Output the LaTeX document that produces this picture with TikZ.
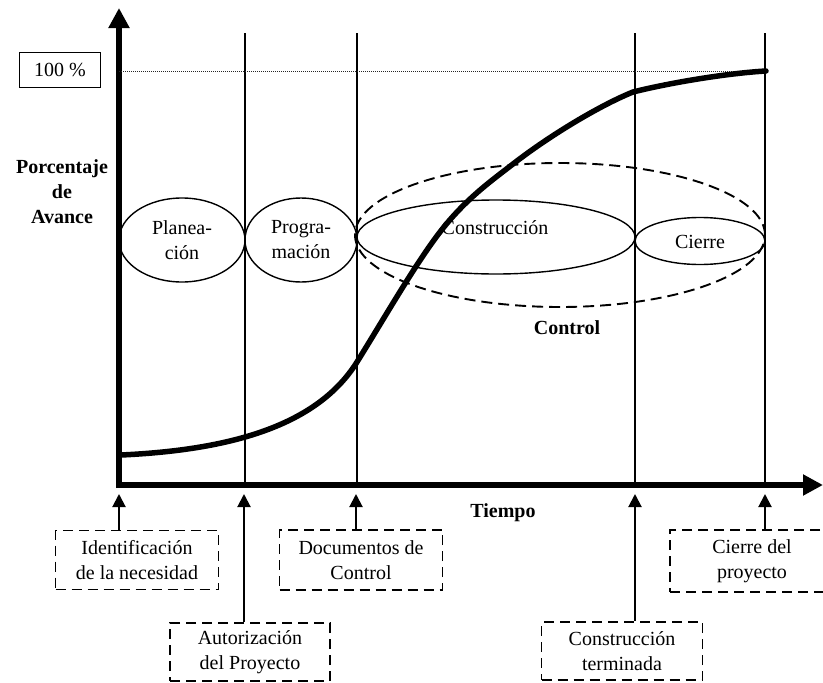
\documentclass[tikz,border=0pt]{standalone}
\usepackage{fontspec}
\setmainfont{Liberation Serif}
\usetikzlibrary{arrows.meta,shapes.geometric}
\begin{document}
\begin{tikzpicture}[x=1pt,y=-1pt,
  font=\fontsize{20}{25}\selectfont,
  axisline/.style={line width=6pt,-{Triangle[width=20pt,length=20pt]}},
  milestone/.style={line width=1.2pt},
  fullmark/.style={line width=1pt,dash pattern=on 1.2pt off 0.8pt,black!85},
  sline/.style={line width=5.5pt,line cap=round,line join=round},
  phase/.style={draw,ellipse,line width=1.4pt,inner sep=0pt},
  ctrl/.style={draw,ellipse,line width=1.9pt,dash pattern=on 11pt off 6pt,inner sep=0pt},
  eventbox/.style={draw,line width=1.7pt,dash pattern=on 10pt off 6pt,align=center,inner sep=0pt},
  pointer/.style={line width=2pt,-{Triangle[width=13pt,length=13pt]}},
  axislabel/.style={font=\fontsize{20}{25}\selectfont\bfseries,align=center}]
\useasboundingbox (0,0) rectangle (823,683);

% axes
\coordinate (origin) at (119,485);
\coordinate (ytop) at (119,8);
\coordinate (xend) at (823,485);
\draw[axisline] (119,488) -- (ytop);
\draw[axisline] (116,485) -- (xend);

% milestone guide lines
\coordinate (m1) at (119,494);
\coordinate (v2t) at (245,33); \coordinate (v2b) at (245,485);
\coordinate (v3t) at (357,33); \coordinate (v3b) at (357,485);
\coordinate (v4t) at (635,33); \coordinate (v4b) at (635,485);
\coordinate (v5t) at (765,33); \coordinate (v5b) at (765,485);
\draw[milestone] (v2t) -- (v2b);
\draw[milestone] (v3t) -- (v3b);
\draw[milestone] (v4t) -- (v4b);
\draw[milestone] (v5t) -- (v5b);

% 100 % level
\node[draw,line width=1pt,minimum width=81,minimum height=35,inner sep=0pt] (full) at (60,70) {100 \%};
\coordinate (fullL) at (119,71);
\coordinate (fullR) at (765,71);
\draw[fullmark] (fullL) -- (fullR);

% axis labels
\node[axislabel] (ylab) at (62,192) {Porcentaje\\de\\Avance};
\node[axislabel] (xlab) at (503,513) {Tiempo};

% phases
\node[phase,minimum width=126,minimum height=84] (plan) at (182,240) {};
\node[align=center] (planT) at (182,240) {Planea-\\ción};
\node[phase,minimum width=112,minimum height=84] (prog) at (301,240) {};
\node[align=center] (progT) at (301,240) {Progra-\\mación};
\node[phase,minimum width=278,minimum height=74] (cons) at (496,237) {};
\node (consT) at (495,228) {Construcción};
\node[phase,minimum width=130,minimum height=47] (cier) at (700,241) {};
\node (cierT) at (700,242) {Cierre};
\node[ctrl,minimum width=410,minimum height=144] (ctrl) at (560,235) {};
\node[axislabel] (ctrlT) at (567,328) {Control};

% progress curve (S-shaped)
\coordinate (s0) at (121,455);
\coordinate (s1) at (357,362);
\coordinate (s2) at (440,232);
\coordinate (s3) at (513,164);
\coordinate (s4) at (633,92);
\coordinate (s5) at (766,71);
\draw[sline] (s0) .. controls (230,450) and (317,426) .. (s1)
  .. controls (385,317) and (415,264.5) .. (s2)
  .. controls (465,199.5) and (491,181) .. (s3)
  .. controls (553,133) and (603,104) .. (s4)
  .. controls (673,82) and (730,73) .. (s5);

% events
\node[eventbox,minimum width=163,minimum height=59] (ev1) at (137,560) {Identificación\\de la necesidad};
\node[eventbox,minimum width=160,minimum height=58] (ev2) at (250,652) {Autorización\\del Proyecto};
\node[eventbox,minimum width=163,minimum height=60] (ev3) at (361,560) {Documentos de\\Control};
\node[eventbox,minimum width=161,minimum height=58] (ev4) at (622,651) {Construcción\\terminada};
\node[eventbox,minimum width=164,minimum height=62] (ev5) at (752,561) {Cierre del\\proyecto};

\coordinate (m2) at (244,494);
\coordinate (m3) at (356,494);
\coordinate (m4) at (635,494);
\coordinate (m5) at (765,494);
\draw[pointer] (ev1.north -| m1) -- (m1);
\draw[pointer] (ev2.north -| m2) -- (m2);
\draw[pointer] (ev3.north -| m3) -- (m3);
\draw[pointer] (ev4.north -| m4) -- (m4);
\draw[pointer] (ev5.north -| m5) -- (m5);
\end{tikzpicture}
\end{document}
